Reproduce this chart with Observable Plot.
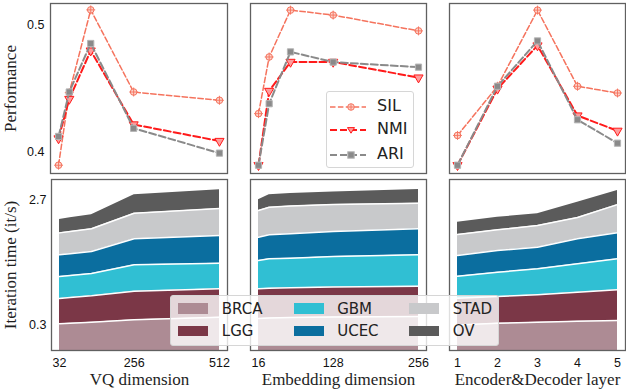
<!DOCTYPE html>
<html><head><meta charset="utf-8">
<script src="https://cdn.jsdelivr.net/npm/d3@7"></script>
<script src="https://cdn.jsdelivr.net/npm/@observablehq/plot@0.6"></script>
<style>
body{margin:0;background:#fff;}
#root{position:relative;width:626px;height:392px;overflow:hidden;background:#fff;}
#root svg.plotp{position:absolute;overflow:visible;background:transparent;}
.leg{position:absolute;background:rgba(255,255,255,0.8);border:1px solid #d6d6d6;border-radius:3px;box-sizing:border-box;font-family:"DejaVu Sans";color:#222;}
.leg .sw{position:absolute;}
.leg .lab{position:absolute;white-space:nowrap;line-height:20px;}
</style></head><body><div id="root"></div>
<script>
// ---------- data ----------
const vqDim = [32, 64, 128, 256, 512];
const embDim = [16, 32, 64, 128, 256];
const layerNum = [1, 2, 3, 4, 5];
const vqTicks = [32, 256, 512];
const embTicks = [16, 128, 256];
const layerTicks = [1, 2, 3, 4, 5];
const perfTicks = [0.4, 0.5];
const iterTicks = [0.3, 2.7];

const metrics = ["SIL", "NMI", "ARI"];
const silVQ = [0.390, 0.447, 0.512, 0.4475, 0.441];
const nmiVQ = [0.411, 0.442, 0.480, 0.422, 0.409];
const ariVQ = [0.4126, 0.4475, 0.4856, 0.419, 0.3995];
const silEmb = [0.4305, 0.475, 0.5118, 0.5079, 0.4955];
const nmiEmb = [0.390, 0.4483, 0.4711, 0.4711, 0.4588];
const ariEmb = [0.390, 0.4383, 0.479, 0.471, 0.467];
const silLay = [0.4134, 0.452, 0.5118, 0.452, 0.4467];
const nmiLay = [0.390, 0.450, 0.484, 0.429, 0.417];
const ariLay = [0.390, 0.452, 0.4876, 0.4257, 0.4073];

const cancers = ["BRCA", "LGG", "GBM", "UCEC", "STAD", "OV"];
// iteration time per cancer type (stacked layers)
const brcaVQ = [0.319, 0.330, 0.350, 0.396, 0.445];
const lggVQ  = [0.485, 0.493, 0.506, 0.549, 0.546];
const gbmVQ  = [0.422, 0.421, 0.428, 0.507, 0.492];
const ucecVQ = [0.417, 0.422, 0.423, 0.499, 0.532];
const stadVQ = [0.422, 0.424, 0.436, 0.491, 0.517];
const ovVQ   = [0.256, 0.264, 0.269, 0.354, 0.360];

const brcaEmb = [0.420, 0.430, 0.440, 0.450, 0.460];
const lggEmb  = [0.570, 0.570, 0.570, 0.575, 0.580];
const gbmEmb  = [0.544, 0.567, 0.570, 0.585, 0.603];
const ucecEmb = [0.446, 0.463, 0.470, 0.480, 0.499];
const stadEmb = [0.514, 0.528, 0.530, 0.520, 0.491];
const ovEmb   = [0.206, 0.238, 0.240, 0.240, 0.263];

const brcaLay = [0.298, 0.330, 0.349, 0.369, 0.382];
const lggLay  = [0.512, 0.513, 0.527, 0.556, 0.590];
const gbmLay  = [0.423, 0.467, 0.498, 0.545, 0.595];
const ucecLay = [0.397, 0.416, 0.415, 0.481, 0.499];
const stadLay = [0.403, 0.398, 0.418, 0.410, 0.542];
const ovLay   = [0.236, 0.240, 0.223, 0.291, 0.271];

// ---------- styles ----------
const metricColors = ["#f5735d", "#ff1a1a", "#8a8a8a"];
const cancerColors = ["#ad8b94", "#7b3747", "#30bfd3", "#0b6e9f", "#c8c9cb", "#5b5b5b"];
const PERF_DOMAIN = [0.3835, 0.517];
const ITER_DOMAIN = [-0.194, 3.09];
const FRAME_C = "#606060";
const TICK_FONT = "Liberation Sans";
const LABEL_FONT = "Liberation Serif";
const LABEL_FILL = "#1e1e1e";

const triDown = {
  draw(ctx, size) {
    const s = Math.sqrt(size / (Math.sqrt(3) / 4));
    const h = s * Math.sqrt(3) / 2;
    ctx.moveTo(0, 2 * h / 3);
    ctx.lineTo(-s / 2, -h / 3);
    ctx.lineTo(s / 2, -h / 3);
    ctx.closePath();
  }
};

const root = document.getElementById("root");
const colLeft = [50, 250, 449];
const colWidth = [177, 176, 176];

function place(svg, left, top) {
  svg.classList.add("plotp");
  svg.style.left = left + "px";
  svg.style.top = top + "px";
  root.appendChild(svg);
}

const rows = (xs, ys) => xs.map((x, i) => ({x, y: ys[i]}));

function perfPanel(col, xs, xDomain, sil, nmi, ari, withY) {
  const mL = withY ? 50 : 8, mR = 6, mT = 3, mB = 5;
  const s = rows(xs, sil), n = rows(xs, nmi), a = rows(xs, ari);
  const marks = [
    Plot.line(s, {x: "x", y: "y", stroke: metricColors[0], strokeWidth: 1.5, strokeDasharray: "5.5,2.4"}),
    Plot.dot(s, {x: "x", y: "y", r: 3.3, fill: "#fcd3cb", stroke: metricColors[0], strokeWidth: 1}),
    Plot.dot(s, {x: "x", y: "y", r: 3.0, symbol: "plus", stroke: metricColors[0], strokeWidth: 0.9}),
    Plot.line(n, {x: "x", y: "y", stroke: metricColors[1], strokeWidth: 2, strokeDasharray: "7,3"}),
    Plot.dot(n, {x: "x", y: "y", r: 3.4, symbol: triDown, fill: "#ff9c9c", stroke: metricColors[1], strokeWidth: 1}),
    Plot.line(a, {x: "x", y: "y", stroke: metricColors[2], strokeWidth: 2, strokeDasharray: "7,3"}),
    Plot.dot(a, {x: "x", y: "y", r: 3.5, symbol: "square", fill: "#8a8a8a", stroke: "#b4b4b4", strokeWidth: 1}),
    Plot.frame({stroke: FRAME_C, strokeWidth: 1.3})
  ];
  if (withY) {
    marks.push(Plot.axisY({ticks: perfTicks, tickSize: 0, tickPadding: 6, tickFormat: d3.format(".1f"), fontSize: 12.5, fontFamily: TICK_FONT, label: null, fill: "#111"}));
    marks.push(Plot.text(["Performance"], {text: d => d, frameAnchor: "left", rotate: -90, textAnchor: "middle", lineAnchor: "bottom", dx: -35, fontFamily: LABEL_FONT, fontSize: 17, fill: LABEL_FILL}));
  }
  const svg = Plot.plot({
    width: mL + colWidth[col] + mR, height: mT + 170 + mB,
    marginLeft: mL, marginRight: mR, marginTop: mT, marginBottom: mB,
    x: {domain: xDomain, axis: null},
    y: {domain: PERF_DOMAIN, axis: null},
    style: {background: "transparent", overflow: "visible"},
    marks
  });
  place(svg, colLeft[col] - mL, 0);
}

function stackRows(xs, layers) {
  const out = [];
  xs.forEach((x, i) => {
    let base = 0;
    cancers.forEach((c, k) => {
      const v = layers[k][i];
      out.push({x, cancer: c, y1: k === 0 ? ITER_DOMAIN[0] : base, y2: base + v});
      base += v;
    });
  });
  return out;
}

function iterPanel(col, xs, xDomain, xTicks, layers, xLabel, withY) {
  const mL = withY ? 51 : 8, mR = 6, mT = 5, mB = 42;
  const left = col === 0 ? 51 : colLeft[col];
  const width = col === 0 ? 176 : colWidth[col];
  const data = stackRows(xs, layers);
  const marks = [
    Plot.areaY(data, {x: "x", y1: "y1", y2: "y2", z: "cancer", fill: "cancer"}),
    Plot.line(data.filter(d => d.cancer !== "OV"), {x: "x", y: "y2", z: "cancer", stroke: "white", strokeWidth: 1.5}),
    Plot.frame({stroke: FRAME_C, strokeWidth: 1.3}),
    Plot.axisX({ticks: xTicks, tickSize: 0, tickPadding: 8, tickFormat: d3.format("d"), fontSize: 12.5, fontFamily: TICK_FONT, label: null, fill: "#111"}),
    Plot.text([xLabel], {text: d => d, frameAnchor: "bottom", textAnchor: "middle", lineAnchor: "bottom", dy: 34, fontFamily: LABEL_FONT, fontSize: 17, fill: LABEL_FILL})
  ];
  if (withY) {
    marks.push(Plot.axisY({ticks: iterTicks, tickSize: 0, tickPadding: 5, tickFormat: d3.format(".1f"), fontSize: 12.5, fontFamily: TICK_FONT, label: null, fill: "#111"}));
    marks.push(Plot.text(["Iteration time (it/s)"], {text: d => d, frameAnchor: "left", rotate: -90, textAnchor: "middle", lineAnchor: "bottom", dx: -36, fontFamily: LABEL_FONT, fontSize: 17, fill: LABEL_FILL}));
  }
  const svg = Plot.plot({
    width: mL + width + mR, height: mT + 171 + mB,
    marginLeft: mL, marginRight: mR, marginTop: mT, marginBottom: mB,
    x: {domain: xDomain, axis: null},
    y: {domain: ITER_DOMAIN, axis: null},
    color: {domain: cancers, range: cancerColors},
    style: {background: "transparent", overflow: "visible"},
    marks
  });
  place(svg, left - mL, 179 - mT);
}

perfPanel(0, vqDim, [8, 536], silVQ, nmiVQ, ariVQ, true);
perfPanel(1, embDim, [4, 268], silEmb, nmiEmb, ariEmb, false);
perfPanel(2, layerNum, [0.8, 5.2], silLay, nmiLay, ariLay, false);

iterPanel(0, vqDim, [8, 536], vqTicks, [brcaVQ, lggVQ, gbmVQ, ucecVQ, stadVQ, ovVQ], "VQ dimension", true);
iterPanel(1, embDim, [4, 268], embTicks, [brcaEmb, lggEmb, gbmEmb, ucecEmb, stadEmb, ovEmb], "Embedding dimension", false);
iterPanel(2, layerNum, [0.8, 5.2], layerTicks, [brcaLay, lggLay, gbmLay, ucecLay, stadLay, ovLay], "Encoder&Decoder layer", false);

// ---------- legends ----------
function metricSymbol(i) {
  const c = metricColors[i];
  const dash = i === 0 ? "5.5,2.4" : "7,3";
  const sw = i === 0 ? 1.5 : 2;
  let mk;
  if (i === 0) mk = `<circle cx="22" cy="7" r="3.3" fill="#fcd3cb" stroke="${c}"/><path d="M19.2,7H24.8M22,4.2V9.8" stroke="${c}" stroke-width="0.9"/>`;
  else if (i === 1) mk = `<path d="M22,10.2L18.5,4.6L25.5,4.6Z" fill="#ff9c9c" stroke="${c}"/>`;
  else mk = `<rect x="18.8" y="3.8" width="6.4" height="6.4" fill="#8a8a8a" stroke="#b4b4b4"/>`;
  return `<svg width="38" height="14" style="position:static;overflow:visible"><line x1="1" y1="7" x2="37" y2="7" stroke="${c}" stroke-width="${sw}" stroke-dasharray="${dash}"/>${mk}</svg>`;
}
const topLeg = document.createElement("div");
topLeg.className = "leg";
Object.assign(topLeg.style, {left: "326px", top: "91px", width: "88px", height: "77px"});
const topCenters = [14, 37.3, 61.7];
metrics.forEach((m, i) => {
  const sw = document.createElement("div");
  sw.className = "sw";
  Object.assign(sw.style, {left: "2px", top: (topCenters[i] - 7) + "px"});
  sw.innerHTML = metricSymbol(i);
  topLeg.appendChild(sw);
  const lab = document.createElement("div");
  lab.className = "lab";
  Object.assign(lab.style, {left: "50px", top: (topCenters[i] - 10) + "px", fontSize: "16px"});
  lab.textContent = m;
  topLeg.appendChild(lab);
});
root.appendChild(topLeg);

const botLeg = document.createElement("div");
botLeg.className = "leg";
Object.assign(botLeg.style, {left: "170px", top: "295px", width: "329px", height: "51px"});
const colX = [7.3, 122.7, 238.3];
const rowY = [12.7, 35];
cancers.forEach((c, k) => {
  const col = Math.floor(k / 2), r = k % 2;
  const sw = document.createElement("div");
  sw.className = "sw";
  Object.assign(sw.style, {left: colX[col] + "px", top: (rowY[r] - 5.3) + "px", width: "30px", height: "10.6px", background: cancerColors[k]});
  botLeg.appendChild(sw);
  const lab = document.createElement("div");
  lab.className = "lab";
  Object.assign(lab.style, {left: (colX[col] + 43.5) + "px", top: (rowY[r] - 10) + "px", fontSize: "15px"});
  lab.textContent = c;
  botLeg.appendChild(lab);
});
root.appendChild(botLeg);
</script>
</body></html>
